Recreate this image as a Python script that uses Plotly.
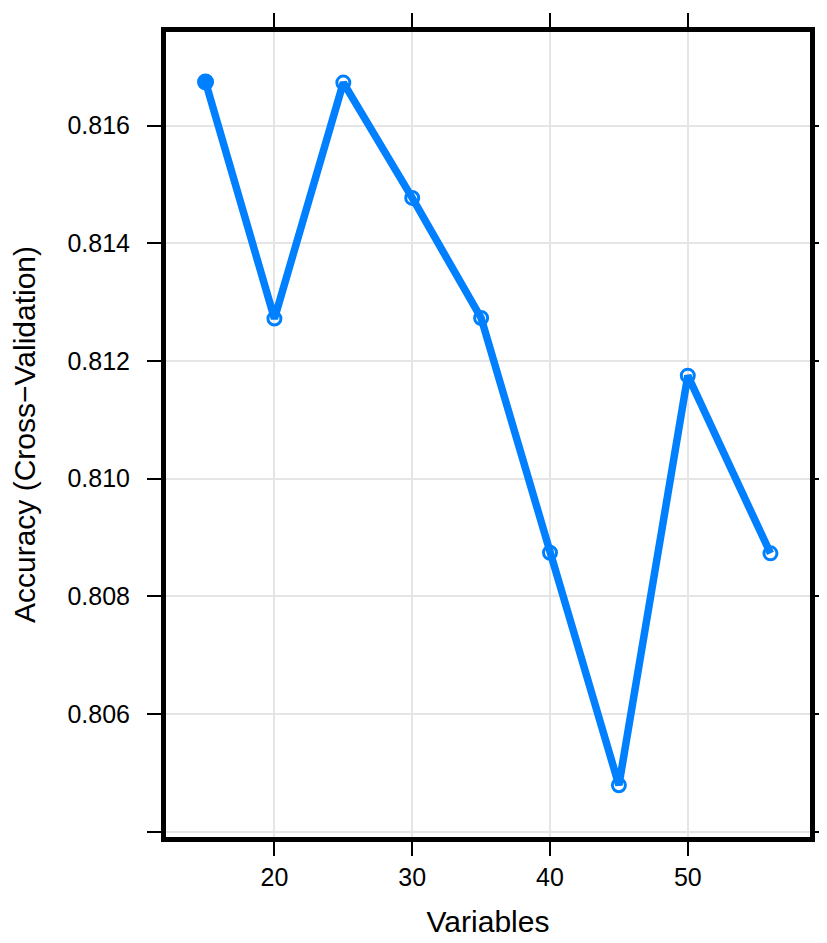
import plotly.graph_objects as go

# RFE 結果：變數數量 vs 交叉驗證準確率
variables = [15, 20, 25, 30, 35, 40, 45, 50, 56]
accuracy = [0.81674, 0.81272, 0.81673, 0.81477, 0.81273, 0.80874, 0.80479, 0.81175, 0.80873]
best_idx = 0  # 選中的變數數量（實心點）

x_ticks = [20, 30, 40, 50]
y_ticks = [0.804, 0.806, 0.808, 0.810, 0.812, 0.814, 0.816]
y_ticktext = ["", "0.806", "0.808", "0.810", "0.812", "0.814", "0.816"]

blue = "#0080ff"
font_family = "Liberation Sans, Arial, sans-serif"

fig = go.Figure()

fig.add_trace(go.Scatter(x=variables, y=accuracy, mode="lines",
                         line=dict(color=blue, width=7.5), hoverinfo="skip"))
fig.add_trace(go.Scatter(x=variables, y=accuracy, mode="markers",
                         marker=dict(symbol="circle-open", size=13, color=blue,
                                     line=dict(color=blue, width=3))))
fig.add_trace(go.Scatter(x=[variables[best_idx]], y=[accuracy[best_idx]], mode="markers",
                         marker=dict(symbol="circle", size=17, color=blue)))

axis_common = dict(showline=True, linecolor="black", linewidth=5, mirror="allticks",
                   ticks="outside", ticklen=14, tickwidth=2, tickcolor="black",
                   showgrid=True, gridcolor="#e5e5e5", gridwidth=2, zeroline=False,
                   tickfont=dict(size=25, color="black", family=font_family))

fig.update_xaxes(range=[12.13, 58.87], tickvals=x_ticks,
                 title=dict(text="Variables", font=dict(size=30, color="black", family=font_family),
                            standoff=22),
                 **axis_common)
fig.update_yaxes(range=[0.80391, 0.81759], tickvals=y_ticks, ticktext=y_ticktext,
                 ticklabelstandoff=12,
                 title=dict(text="Accuracy (Cross\u2212Validation)",
                            font=dict(size=30, color="black", family=font_family), standoff=25),
                 **axis_common)

fig.update_layout(width=827, height=943, showlegend=False,
                  plot_bgcolor="white", paper_bgcolor="white",
                  margin=dict(l=158, r=25, t=24, b=114, autoexpand=False),
                  font=dict(family=font_family))

fig.write_html("out.html")
